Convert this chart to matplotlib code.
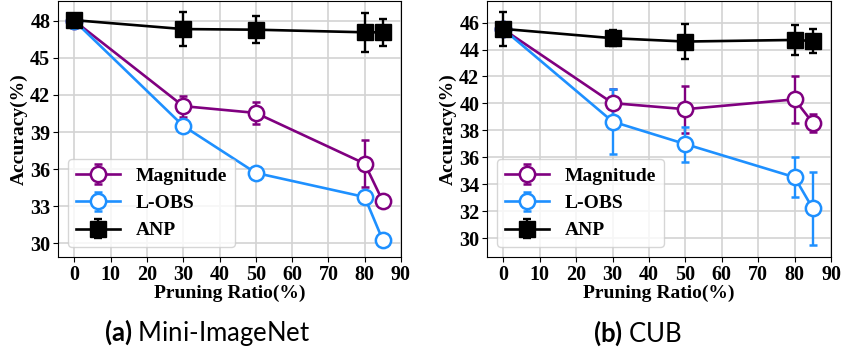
"""Accuracy vs pruning ratio for Magnitude / L-OBS / ANP on two datasets."""

import matplotlib

matplotlib.use("Agg")
import matplotlib.pyplot as plt  # noqa: E402

ratios = [0, 30, 50, 80, 85]

# (a) Mini-ImageNet
mini_mag = [48.0, 41.1, 40.55, 36.45, 33.4]
mini_mag_err = [0.0, 0.85, 0.9, 1.9, 0.0]
mini_lobs = [48.0, 39.5, 35.7, 33.75, 30.25]
mini_lobs_err = [0.0, 0.45, 0.0, 0.5, 0.0]
mini_anp = [48.05, 47.33, 47.28, 47.07, 47.07]
mini_anp_err = [0.15, 1.35, 1.1, 1.6, 1.07]

# (b) CUB
cub_mag = [45.5, 40.02, 39.57, 40.3, 38.55]
cub_mag_err = [0.0, 1.05, 1.75, 1.73, 0.7]
cub_lobs = [45.5, 38.65, 36.98, 34.52, 32.2]
cub_lobs_err = [0.0, 2.4, 1.3, 1.47, 2.7]
cub_anp = [45.53, 44.84, 44.59, 44.71, 44.63]
cub_anp_err = [1.24, 0.6, 1.3, 1.1, 0.9]

mini_yticks = [30, 33, 36, 39, 42, 45, 48]
cub_yticks = [30, 32, 34, 36, 38, 40, 42, 44, 46]
xticks = [0, 10, 20, 30, 40, 50, 60, 70, 80, 90]

SERIF = "Liberation Serif"
W, H = 841, 356

plt.rcParams["mathtext.fontset"] = "custom"
plt.rcParams["mathtext.rm"] = "Lato"
plt.rcParams["mathtext.bf"] = "Lato:bold"

fig = plt.figure(figsize=(W / 100, H / 100), dpi=100)


def draw_panel(ax, mag, mag_err, lobs, lobs_err, anp, anp_err, yticks, ylim):
    common = dict(linewidth=1.9, elinewidth=1.7, capsize=3, capthick=1.7)
    ax.errorbar(ratios, mag, yerr=mag_err, color="#800080", marker="o",
                markersize=11, markerfacecolor="white", markeredgewidth=1.8,
                label="Magnitude", zorder=3, **common)
    ax.errorbar(ratios, lobs, yerr=lobs_err, color="#1E90FF", marker="o",
                markersize=11, markerfacecolor="white", markeredgewidth=1.8,
                label="L-OBS", zorder=3, **common)
    ax.errorbar(ratios, anp, yerr=anp_err, color="black", marker="s",
                markersize=11, label="ANP", zorder=4, **common)
    ax.set_xlim(-4.5, 90)
    ax.set_ylim(*ylim)
    ax.set_xticks(xticks)
    ax.set_yticks(yticks)
    ax.grid(color="#d3d3d3", linewidth=1.2)
    ax.set_axisbelow(True)
    for lbl in ax.get_xticklabels() + ax.get_yticklabels():
        lbl.set_fontfamily(SERIF)
        lbl.set_fontweight("bold")
        lbl.set_fontsize(14.5)
    ax.tick_params(length=3.5, pad=2)
    ax.set_xlabel("Pruning Ratio(%)", fontfamily=SERIF, fontweight="bold",
                  fontsize=14, labelpad=0)
    ax.set_ylabel("Accuracy(%)", fontfamily=SERIF, fontweight="bold",
                  fontsize=14, labelpad=2)
    ax.legend(loc="lower left", prop={"family": SERIF, "weight": "bold",
                                       "size": 14},
              handlelength=2.3, borderpad=0.4, labelspacing=0.5)


ax1 = fig.add_axes([58 / W, (H - 257) / H, (401 - 58) / W, 256 / H])
draw_panel(ax1, mini_mag, mini_mag_err, mini_lobs, mini_lobs_err,
           mini_anp, mini_anp_err, mini_yticks, (28.9, 49.6))

ax2 = fig.add_axes([487 / W, (H - 257) / H, (831 - 487) / W, 256 / H])
draw_panel(ax2, cub_mag, cub_mag_err, cub_lobs, cub_lobs_err,
           cub_anp, cub_anp_err, cub_yticks, (28.6, 47.6))

# captions
for x, tag, name in [(207 / W, "(a)", "Mini-ImageNet"), (637 / W, "(b)", "CUB")]:
    fig.text(x, 1 - 333 / H, f"$\\mathbf{{{tag}}}$ " + name, ha="center",
             va="center", fontsize=18.5, fontfamily="Lato")

fig.savefig("out.png", dpi=100)
